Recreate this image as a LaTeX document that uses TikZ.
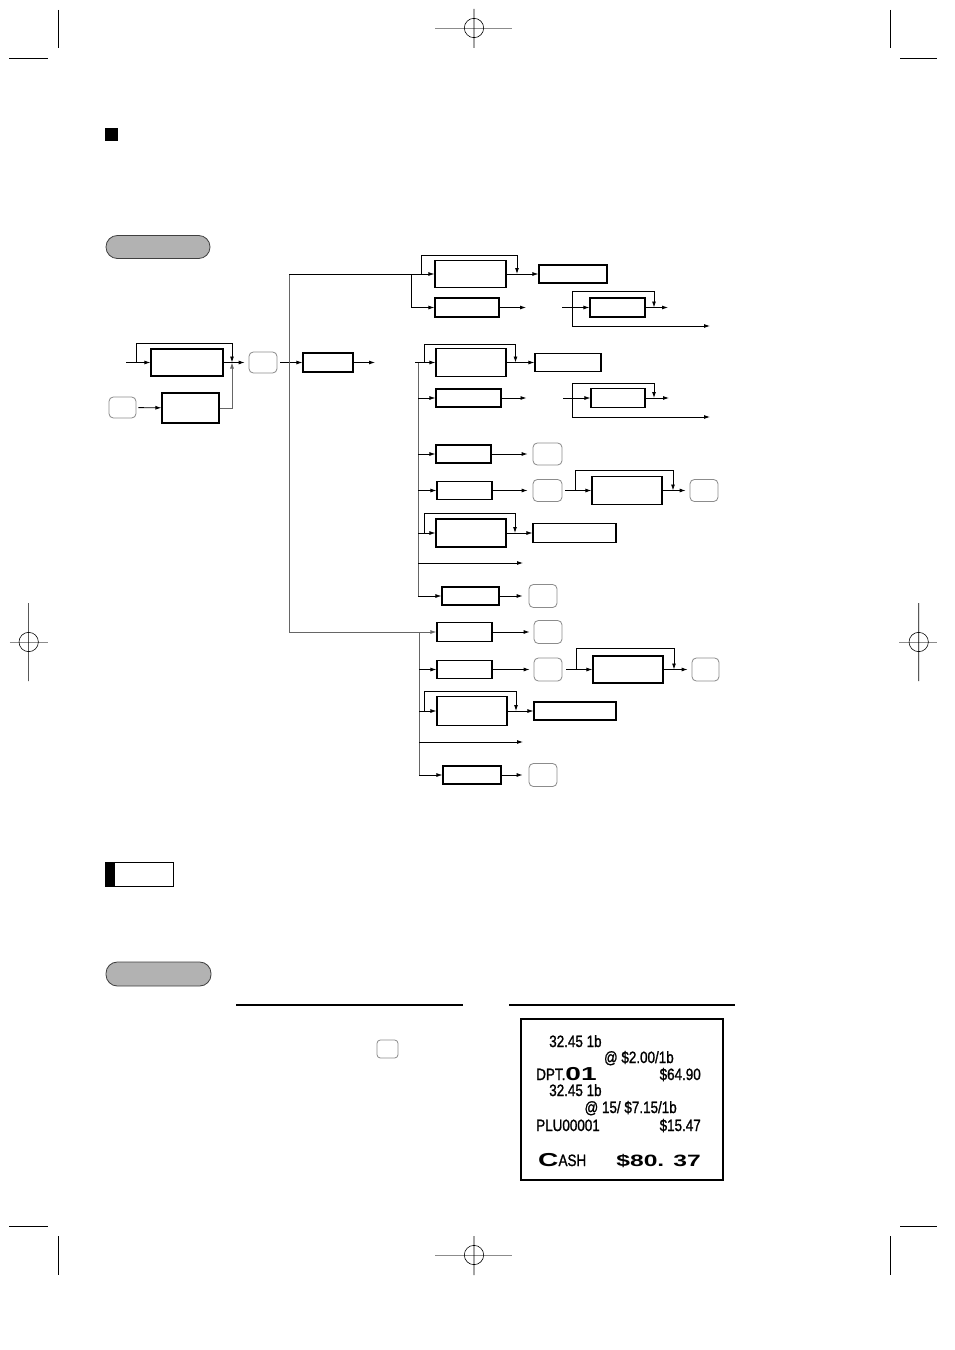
\documentclass[tikz,border=0pt]{standalone}
\usepackage{fontspec}
\usetikzlibrary{arrows.meta,calc,positioning}
\newfontfamily\rcptfont[FakeStretch=0.82,FakeBold=1.2]{Liberation Sans}
\newfontfamily\rcptwide[FakeStretch=1.5]{Liberation Sans}

\begin{document}
\begin{tikzpicture}[x=0.3mm,y=-0.3mm,
  box/.style 2 args={draw,line width=1pt,minimum width=#1*0.3mm,minimum height=#2*0.3mm,inner sep=0pt},
  key/.style={draw=black!45,line width=0.7pt,rounded corners=1.3mm,minimum width=28*0.3mm,minimum height=22*0.3mm,inner sep=0pt},
  pill/.style={draw=black!75,fill=black!30,line width=0.7pt,rounded corners=3.4mm,minimum width=104*0.3mm,minimum height=23*0.3mm,inner sep=0pt},
  flow/.style={line width=0.7pt,-{Latex[length=1.8mm,width=1.2mm]}},
  trunk/.style={line width=0.7pt,draw=black!60},
  crop/.style={line width=0.5pt},
  rcpt/.style={font=\rcptfont\fontsize{14}{16}\selectfont,inner sep=0pt}]
  \useasboundingbox (0,0) rectangle (954,1350);

  % crop marks
  \draw[crop] (58.7,10) -- (58.7,48) (9,58) -- (48,58);
  \draw[crop] (890,10) -- (890,48) (900,58) -- (937,58);
  \draw[crop] (58.7,1236) -- (58.7,1275) (9,1226) -- (48,1226);
  \draw[crop] (890,1236) -- (890,1275) (900,1226) -- (937,1226);
  \draw[crop,black!45] (435,28) -- (512,28) (435,1255) -- (512,1255)
    (9.8,642) -- (47.7,642) (899,642) -- (937,642);
  \draw[crop] (474,9) -- (474,48) (474,28) circle[radius=2.9mm];
  \draw[crop] (474,1236) -- (474,1275) (474,1255) circle[radius=2.9mm];
  \draw[crop] (28.7,603) -- (28.7,681) (28.7,642) circle[radius=2.9mm];
  \draw[crop] (918.7,603) -- (918.7,681) (918.7,642) circle[radius=2.9mm];

  \fill (105,128) rectangle (118,141);
  \node[pill] (hdr1) at (158,247) {};

  % entry part
  \node[box={72}{27}] (in1) at (187,362.5) {};
  \node[key,minimum width=27*0.3mm,minimum height=21*0.3mm] (kL) at (122.5,407.5) {};
  \node[box={57}{30}] (in2) at (190.5,408) {};
  \node[key,minimum height=21*0.3mm] (k1) at (263,362.5) {};
  \node[box={50}{19}] (b0) at (328,362.5) {};
  \coordinate (s1) at (126,362.5);
  \coordinate (j1) at (232,362.5);
  \coordinate (e0) at (375,362.5);
  \draw[flow] (s1) -- (in1);
  \draw[flow] ($(s1)+(10,0)$) -- ++(0,-19.5) -| (j1);
  \draw[flow,shorten <=0.6mm] (kL) -- (in2);
  \draw[flow,draw=black!60] (in2.east) -| (j1);
  \draw[flow,shorten >=1.2mm] (in1) -- (k1);
  \draw[flow,shorten <=0.9mm] (k1) -- (b0);
  \draw[flow] (b0) -- (e0);

  % main branch
  \coordinate (tTop) at (289,274);
  \coordinate (tBot) at (289,632);
  \draw[trunk] (tTop) -- (tBot);

  \node[box={71}{27}] (A1) at (470.5,274) {};
  \node[box={68}{18}] (A1t) at (573,274) {};
  \node[box={64}{19}] (A2) at (467,307.5) {};
  \coordinate (aj) at (411.5,274);
  \coordinate (aL) at (517,274);
  \coordinate (a2e) at (526,307.5);
  \draw[flow] (tTop) -- (A1);
  \draw[flow] (aj) |- (A2);
  \draw[flow] ($(aj)+(9.5,0)$) -- ++(0,-19) -| (aL);
  \draw[flow] (A1) -- (A1t);
  \draw[flow] (A2) -- (a2e);

  \node[box={55}{19}] (A3) at (617.5,307.5) {};
  \coordinate (a3s) at (562,307.5);
  \coordinate (a3L) at (654,307.5);
  \coordinate (a3e) at (668,307.5);
  \coordinate (a3f) at (710,326);
  \draw[flow] (a3s) -- (A3);
  \draw[flow] ($(a3s)+(10,0)$) -- ++(0,-16.5) -| (a3L);
  \draw[flow] (A3) -- (a3e);
  \draw[flow] ($(a3s)+(10,0)$) |- (a3f);

  \coordinate (bIn) at (415,362.5);
  \coordinate (bTop) at (418,362.5);
  \coordinate (bBot) at (418,596);
  \draw[trunk] (bTop) -- (bBot);
  \node[box={70}{28}] (B1) at (471,362.5) {};
  \node[box={66}{18}] (B1t) at (568,362.5) {};
  \coordinate (bL) at (515.5,362.5);
  \draw[flow] (bIn) -- (B1);
  \draw[flow] ($(bIn)+(9,0)$) -- ++(0,-18.5) -| (bL);
  \draw[flow] (B1) -- (B1t);

  \node[box={65}{18}] (B2) at (468.5,398) {};
  \coordinate (b2e) at (526.5,398);
  \draw[flow] (bTop |- B2) -- (B2);
  \draw[flow] (B2) -- (b2e);

  \node[box={54}{19}] (B3) at (618,398) {};
  \coordinate (b3s) at (563,398);
  \coordinate (b3L) at (654,398);
  \coordinate (b3e) at (669,398);
  \coordinate (b3f) at (710,417);
  \draw[flow] (b3s) -- (B3);
  \draw[flow] ($(b3s)+(9,0)$) -- ++(0,-15) -| (b3L);
  \draw[flow] (B3) -- (b3e);
  \draw[flow] ($(b3s)+(9,0)$) |- (b3f);

  \node[box={55}{18}] (C1) at (463.5,454) {};
  \node[key,minimum width=29*0.3mm] (kC) at (547.5,454) {};
  \draw[flow] (bTop |- C1) -- (C1);
  \draw[flow,shorten >=1.5mm] (C1) -- (kC);

  \node[box={55}{18}] (D1) at (464.5,490.5) {};
  \node[key,minimum width=29*0.3mm] (kD) at (547.5,490.5) {};
  \node[box={70}{28}] (D2) at (627,490.5) {};
  \node[key] (kD2) at (704,490.5) {};
  \coordinate (dL) at (673,490.5);
  \draw[flow] (bTop |- D1) -- (D1);
  \draw[flow,shorten >=1.5mm] (D1) -- (kD);
  \draw[flow,shorten <=0.9mm] (kD) -- (D2);
  \draw[flow] ($(kD.east)+(13,0)$) -- ++(0,-20.5) -| (dL);
  \draw[flow,shorten >=1.2mm] (D2) -- (kD2);

  \node[box={70}{28}] (E1) at (471,533) {};
  \node[box={83}{19}] (E1t) at (574.5,533) {};
  \coordinate (eL) at (515,533);
  \draw[flow] (bTop |- E1) -- (E1);
  \draw[flow] ($(bTop |- E1)+(6,0)$) -- ++(0,-20) -| (eL);
  \draw[flow] (E1) -- (E1t);

  \coordinate (fe) at (523,563);
  \draw[flow] (bTop |- fe) -- (fe);

  \node[box={57}{18}] (G1) at (470.5,596) {};
  \node[key,minimum height=23*0.3mm] (kG) at (543,596) {};
  \draw[flow] (bBot) -- (G1);
  \draw[flow,shorten >=1.8mm] (G1) -- (kG);

  % lower branch
  \coordinate (hTop) at (419,632);
  \coordinate (hBot) at (419,775);
  \draw[trunk] (hTop) -- (hBot);
  \node[box={55}{19}] (H1) at (464.5,632) {};
  \node[key,minimum height=23*0.3mm] (kH1) at (548,632) {};
  \draw[flow,draw=black!60] (tBot) -- (H1);
  \draw[flow,shorten >=1.2mm] (H1) -- (kH1);

  \node[box={55}{18}] (H2) at (464.5,669.5) {};
  \node[key,minimum height=23*0.3mm] (kH2) at (548,669.5) {};
  \node[box={70}{27}] (H3) at (628,669.5) {};
  \node[key,minimum width=27*0.3mm,minimum height=23*0.3mm] (kH3) at (705.5,669.5) {};
  \coordinate (h3L) at (674,669.5);
  \draw[flow] (hTop |- H2) -- (H2);
  \draw[flow,shorten >=1.2mm] (H2) -- (kH2);
  \draw[flow,shorten <=1.2mm] (kH2) -- (H3);
  \draw[flow] ($(kH2.east)+(14,0)$) -- ++(0,-21.5) -| (h3L);
  \draw[flow,shorten >=1.2mm] (H3) -- (kH3);

  \node[box={70}{29}] (I1) at (472,711) {};
  \node[box={82}{18}] (I1t) at (575,711) {};
  \coordinate (iL) at (516,711);
  \draw[flow] (hTop |- I1) -- (I1);
  \draw[flow] ($(hTop |- I1)+(5.5,0)$) -- ++(0,-20) -| (iL);
  \draw[flow] (I1) -- (I1t);

  \coordinate (je) at (523,742);
  \draw[flow] (hTop |- je) -- (je);

  \node[box={58}{18}] (K1) at (472,775) {};
  \node[key,minimum height=23*0.3mm] (kK) at (543,775) {};
  \draw[flow] (hBot) -- (K1);
  \draw[flow,shorten >=1.8mm] (K1) -- (kK);

  % note and example
  \node[draw,line width=0.8pt,minimum width=68*0.3mm,minimum height=24*0.3mm,inner sep=0pt,
    path picture={\fill (path picture bounding box.north west) rectangle ([xshift=3mm]path picture bounding box.south west);}] (note) at (139,874) {};
  \node[pill,minimum width=105*0.3mm,minimum height=24*0.3mm] (hdr2) at (158.5,974) {};
  \draw[line width=0.9pt] (236,1005) -- (463,1005) (509,1005) -- (735,1005);
  \node[key,minimum width=21*0.3mm,minimum height=18*0.3mm,rounded corners=1mm] (kR) at (387.5,1049) {};

  \node[draw,line width=0.9pt,minimum width=202*0.3mm,minimum height=161*0.3mm,inner sep=0pt] (slip) at (622,1099.5) {};
  \node[rcpt,anchor=base west] (r1) at (549,1047) {32.45 1b};
  \node[rcpt,anchor=base east] (r2) at (674,1063) {@ \$2.00/1b};
  \node[rcpt,anchor=base west] (r3) at (536,1080) {DPT.{\rcptwide\bfseries\fontsize{16}{16}\selectfont 01}};
  \node[rcpt,anchor=base east] (r3v) at (701,1080) {\$64.90};
  \node[rcpt,anchor=base west] (r4) at (549,1096) {32.45 1b};
  \node[rcpt,anchor=base east] (r5) at (677,1113) {@ 15/ \$7.15/1b};
  \node[rcpt,anchor=base west] (r6) at (536,1131) {PLU00001};
  \node[rcpt,anchor=base east] (r6v) at (701,1131) {\$15.47};
  \node[rcpt,anchor=base west] (r7) at (538,1166) {{\rcptwide\bfseries\fontsize{16}{16}\selectfont C}ASH};
  \node[rcpt,anchor=base east] (r7v) at (701,1166) {\rcptwide\bfseries\fontsize{14}{16}\selectfont \$80. 37};
\end{tikzpicture}
\end{document}
